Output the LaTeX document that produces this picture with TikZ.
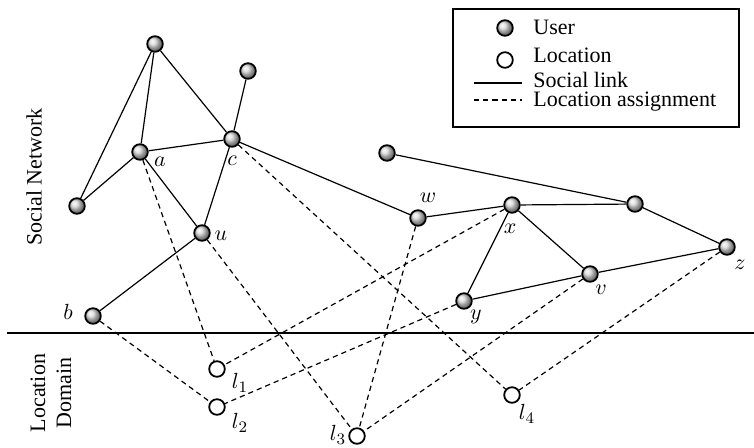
\documentclass[tikz,border=0pt]{standalone}
\usepackage{fontspec}
\setmainfont{Liberation Serif}
\usetikzlibrary{positioning, calc}
\tikzset{
  % Graph styles
  user/.style={circle, draw=black, line width=0.9pt, ball color=gray!30, minimum size=7.8pt, inner sep=0pt},
  location/.style={circle, draw=black, line width=0.9pt, fill=white, minimum size=7.8pt, inner sep=0pt},
  link/.style={line width=0.6pt},
  assign/.style={line width=0.6pt, dash pattern=on 2.6pt off 2pt},
  lbl/.style={font=\fontsize{11}{13}\selectfont, inner sep=0pt},
  side/.style={font=\fontsize{11}{13}\selectfont, rotate=90, align=center, inner sep=0pt},
  % Legend styles
  legendbox/.style={rectangle, draw=black, line width=0.7pt, minimum width=143pt, minimum height=59pt},
  legendtext/.style={font=\fontsize{11}{13}\selectfont, anchor=base west, inner sep=0pt},
}

\begin{document}
\begin{tikzpicture}[x=0.5pt, y=-0.5pt]
    \useasboundingbox (0,0) rectangle (754,447);

    % Users
    \node[user] (top) at (155,44) {};
    \node[user] (s) at (248,71) {};
    \node[user] (a) at (140,152) {};
    \node[user] (c) at (232,139) {};
    \node[user] (lf) at (77,206) {};
    \node[user] (u) at (202,233) {};
    \node[user] (b) at (93,316) {};
    \node[user] (p) at (387,153) {};
    \node[user] (w) at (418,218) {};
    \node[user] (x) at (512,205) {};
    \node[user] (q) at (635,204) {};
    \node[user] (z) at (727,247) {};
    \node[user] (v) at (590,274) {};
    \node[user] (y) at (464,301) {};

    % Locations
    \node[location] (l1) at (217,369) {};
    \node[location] (l2) at (217,407) {};
    \node[location] (l3) at (357,436) {};
    \node[location] (l4) at (512,395) {};

    % Social links
    \draw[link] (top) -- (lf);
    \draw[link] (top) -- (a);
    \draw[link] (top) -- (c);
    \draw[link] (a) -- (lf);
    \draw[link] (a) -- (c);
    \draw[link] (a) -- (u);
    \draw[link] (c) -- (s);
    \draw[link] (c) -- (u);
    \draw[link] (c) -- (w);
    \draw[link] (u) -- (b);
    \draw[link] (w) -- (x);
    \draw[link] (x) -- (q);
    \draw[link] (p) -- (q);
    \draw[link] (q) -- (z);
    \draw[link] (x) -- (y);
    \draw[link] (x) -- (v);
    \draw[link] (y) -- (v);
    \draw[link] (v) -- (z);

    % Location assignments
    \draw[assign] (a) -- (l1);
    \draw[assign] (x) -- (l1);
    \draw[assign] (b) -- (l2);
    \draw[assign] (y) -- (l2);
    \draw[assign] (u) -- (l3);
    \draw[assign] (w) -- (l3);
    \draw[assign] (v) -- (l3);
    \draw[assign] (c) -- (l4);
    \draw[assign] (z) -- (l4);

    % Labels
    \node[lbl] (la) at ($(a)+(20,10)$) {$a$};
    \node[lbl] (lc) at ($(c)+(0,22)$) {$c$};
    \node[lbl] (lu) at ($(u)+(19,3)$) {$u$};
    \node[lbl] (lb) at ($(b)+(-25,-4)$) {$b$};
    \node[lbl] (lw) at ($(w)+(10,-20)$) {$w$};
    \node[lbl] (lx) at ($(x)+(-2,24)$) {$x$};
    \node[lbl] (lv) at ($(v)+(11,16)$) {$v$};
    \node[lbl] (ly) at ($(y)+(12,16)$) {$y$};
    \node[lbl] (lz) at ($(z)+(13,18)$) {$z$};
    \node[lbl] (ll1) at ($(l1)+(23,14)$) {$l_1$};
    \node[lbl] (ll2) at ($(l2)+(23,16)$) {$l_2$};
    \node[lbl] (ll3) at ($(l3)+(-19,-1)$) {$l_3$};
    \node[lbl] (ll4) at ($(l4)+(15,19)$) {$l_4$};

    % Domains
    \draw[line width=1pt] (7,333) -- (754,333);
    \node[side] (social) at (34,177) {Social Network};
    \node[side] (domain) at (51,393) {Location\\Domain};

    % Legend
    \node[legendbox] (legend) at (596,68) {};
    \node[user] (kuser) at (505,28) {};
    \node[location] (kloc) at (505,60) {};
    \coordinate (ks1) at (474,83);
    \coordinate (ks2) at (522,83);
    \coordinate (ka1) at (474,100);
    \coordinate (ka2) at (522,100);
    \draw[link] (ks1) -- (ks2);
    \draw[assign] (ka1) -- (ka2);
    \node[legendtext] (tuser) at (533,34) {User};
    \node[legendtext] (tloc) at (533,62) {Location};
    \node[legendtext] (tlink) at (533,87) {Social link};
    \node[legendtext] (tassign) at (533,106) {Location assignment};
\end{tikzpicture}
\end{document}
